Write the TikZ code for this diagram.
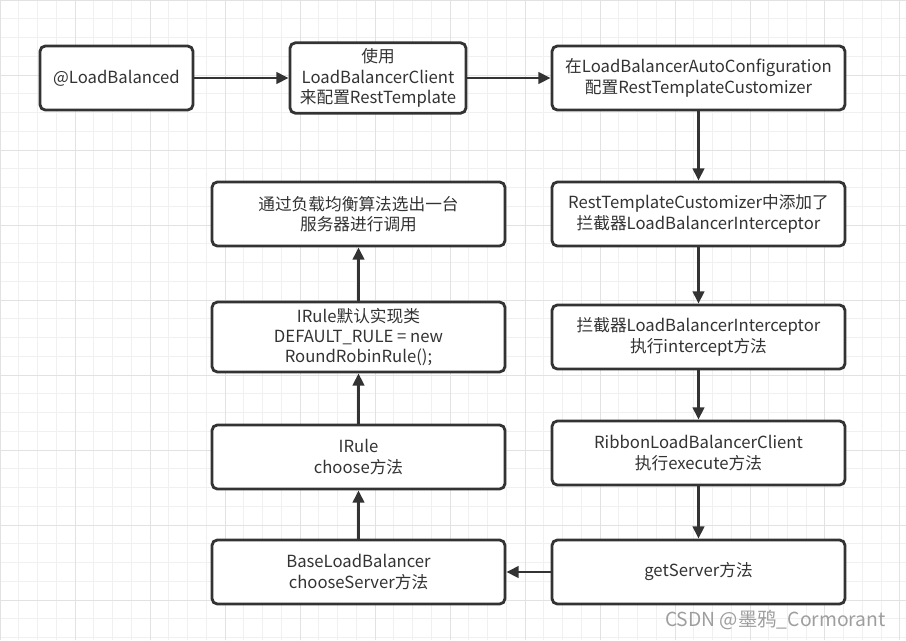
\documentclass[tikz,border=0pt]{standalone}
\usepackage{fontspec}
\setmainfont{Noto Sans CJK SC}
\usepackage{tikz}
\usetikzlibrary{arrows.meta}
\definecolor{ink}{HTML}{333333}
\definecolor{gridminor}{HTML}{F0F0F0}
\definecolor{gridmajor}{HTML}{E2E2E2}
\tikzstyle{box}=[draw=ink,fill=white,line width=1.6pt,rounded corners=3pt,
  minimum width=5.86cm,minimum height=1.28cm,align=center,
  font=\fontsize{9.5}{11.6}\selectfont,text=ink]
\tikzstyle{edge} = [draw=ink,line width=1.6pt,-{Triangle[length=7pt,width=6.5pt]}]

\begin{document}
\begin{tikzpicture}[x=0.02cm,y=-0.02cm]
      \useasboundingbox (0,0) rectangle (906,640);
      % background grid
      \draw[gridminor,line width=0.4pt] (0,0) grid[step=0.375cm] (906,640);
      \draw[gridmajor,line width=0.4pt] (0,0) grid[step=1.5cm] (906,640);
      % top row
      \node[box,minimum width=3.06cm] (lb) at (116.5,78) {@LoadBalanced};
      \node[box,minimum width=3.52cm] (client) at (378,78) {使用\\LoadBalancerClient\\来配置RestTemplate};
      \node[box] (autoconf) at (698.5,78) {在LoadBalancerAutoConfiguration\\配置RestTemplateCustomizer};
      % right column
      \node[box] (customizer) at (698.5,214) {RestTemplateCustomizer中添加了\\拦截器LoadBalancerInterceptor};
      \node[box] (interceptor) at (698.5,337) {拦截器LoadBalancerInterceptor\\执行intercept方法};
      \node[box] (ribbon) at (698.5,453) {RibbonLoadBalancerClient\\执行execute方法};
      \node[box] (getserver) at (698.5,572) {getServer方法};
      % left column
      \node[box] (baselb) at (358.5,572) {BaseLoadBalancer\\chooseServer方法};
      \node[box] (choose) at (358.5,457) {IRule\\choose方法};
      \node[box] (defrule) at (358.5,337) {IRule默认实现类\\DEFAULT\_RULE = new\\RoundRobinRule();};
      \node[box] (pick) at (358.5,214) {通过负载均衡算法选出一台\\服务器进行调用};
      \draw[edge] (lb) to (client);
      \draw[edge] (client) to (autoconf);
      \draw[edge] (autoconf) to (customizer);
      \draw[edge] (customizer) to (interceptor);
      \draw[edge] (interceptor) to (ribbon);
      \draw[edge] (ribbon) to (getserver);
      \draw[edge] (getserver) to (baselb);
      \draw[edge] (baselb) to (choose);
      \draw[edge] (choose) to (defrule);
      \draw[edge] (defrule) to (pick);
      % watermark
      \node[text=black!38,font=\fontsize{11}{13}\selectfont,anchor=east] (mark) at (892,620) {CSDN @墨鸦\_Cormorant};
    \end{tikzpicture}
\end{document}
